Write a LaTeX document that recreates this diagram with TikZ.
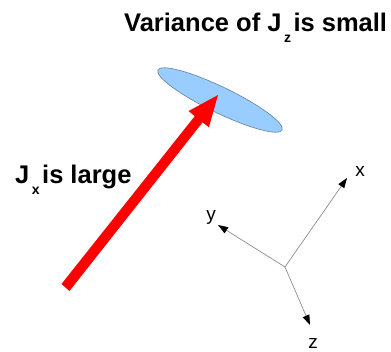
\documentclass[tikz,border=0pt]{standalone}
\usepackage{fontspec}
\setmainfont{Liberation Sans}
\usetikzlibrary{arrows.meta}
\definecolor{ellfill}{RGB}{153,204,255}
\definecolor{elldraw}{RGB}{100,130,165}
\definecolor{axisgray}{RGB}{140,140,140}
\tikzset{
  title/.style={font=\bfseries\fontsize{25.5}{28}\selectfont, inner sep=0pt},
  axislabel/.style={font=\fontsize{19}{22}\selectfont, inner sep=0pt},
  axisline/.style={draw=axisgray, line width=0.7pt, -{Triangle[length=10pt,width=7pt,color=black]}},
}
\newcommand{\mysub}[1]{\kern2.5pt\raisebox{-11pt}{\fontsize{14}{14}\selectfont #1}\kern2.5pt}
\begin{document}
\begin{tikzpicture}[x=1pt,y=-1pt]
\useasboundingbox (0,0) rectangle (391,351);
% ellipse
\fill[ellfill, draw=elldraw, line width=0.6pt, rotate around={-25.8:(220,100)}] (220,100) ellipse [x radius=69, y radius=13];
% red arrow
\fill[red] (61.5,284) -- (194.8,116.1) -- (188.5,111.1) -- (218,95) -- (208.9,127.3) -- (202.6,122.3) -- (69.5,291) -- cycle;
% texts
\node[title, anchor=base west] (t1) at (124,31) {Variance of J\mysub{z} is small};
\node[title, anchor=base west] (t2) at (15,183) {J\mysub{x} is large};
% axes
\coordinate (O) at (285,267);
\coordinate (xt) at (347,178);
\coordinate (yt) at (218,225);
\coordinate (zt) at (310,325);
\draw[axisline] (O) -- (xt);
\draw[axisline] (O) -- (yt);
\draw[axisline] (O) -- (zt);
\node[axislabel] (xl) at (360,171) {x};
\node[axislabel] (yl) at (211,217) {y};
\node[axislabel] (zl) at (313,343) {z};
\end{tikzpicture}
\end{document}
